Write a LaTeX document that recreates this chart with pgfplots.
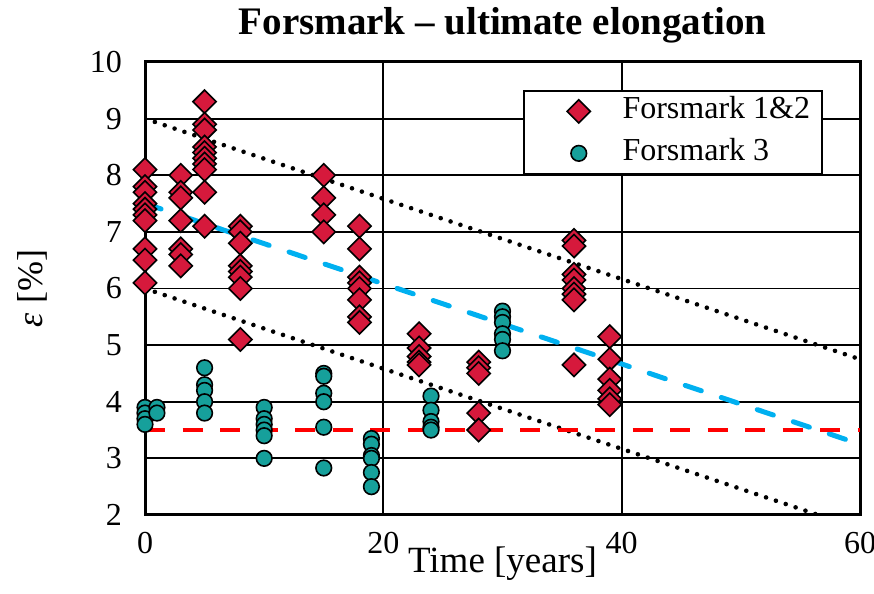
\documentclass[border=0pt]{standalone}
\usepackage{fontspec}
\setmainfont{Liberation Serif}
\usepackage{pgfplots}
\pgfplotsset{compat=1.18}

\definecolor{fmred}{RGB}{214,25,60}
\definecolor{fmteal}{RGB}{22,160,155}
\definecolor{trendblue}{RGB}{0,176,240}

% legend image: a single mark, offset to the right
\pgfplotsset{markonly legend/.style={legend image code/.code={%
  \path (0pt,0pt) (30pt,0pt);
  \draw[##1] plot coordinates {(21pt,0pt)};}}}

\begin{document}
\begin{tikzpicture}
\begin{axis}[
  name=ax,
  scale only axis,
  width=357.5pt, height=226.5pt,
  xmin=0, xmax=60, ymin=2, ymax=10,
  xtick={0,20,40,60}, ytick={2,3,...,10},
  grid=major, major grid style={black, line width=0.9pt},
  axis line style={line width=1.5pt},
  major tick length=0pt,
  tick label style={font=\fontsize{16}{16}\selectfont},
  /pgf/number format/assume math mode=true,
  yticklabel style={xshift=-8pt},
  xticklabel style={yshift=-5pt},
  every axis title shift=0pt,
  title={Forsmark – ultimate elongation},
  title style={font=\bfseries\fontsize{19.5}{19.5}\selectfont,
    at={(axis description cs:0.5,1.0596)}, anchor=base},
  xlabel={Time [years]},
  xlabel style={font=\fontsize{18.5}{18.5}\selectfont,
    at={(axis description cs:0.5,-0.128)}, anchor=base},
  ylabel={\textit{ε} [\%]},
  ylabel style={font=\fontsize{18}{18}\selectfont,
    at={(axis description cs:-0.144,0.5)}, anchor=base},
  clip mode=individual,
  legend cell align=left,
  legend style={at={(0.948,0.938)}, anchor=north east,
    draw=black, line width=0.75pt, fill=white,
    font=\fontsize{16}{16}\selectfont,
    inner xsep=6pt, inner ysep=3pt,
    nodes={inner sep=0pt, text height=11pt, text depth=3.5pt},
    column sep=12.5pt, row sep=6.5pt},
]

% trend lines: mean and +/- 1.5 band, and the 3.5 % criterion
\addplot[forget plot, black, line width=2.3pt, line cap=round,
  dash pattern=on 0pt off 5.2pt] coordinates {(0,9) (60,4.75)};
\addplot[forget plot, black, line width=2.3pt, line cap=round,
  dash pattern=on 0pt off 5.2pt] coordinates {(0,6) (56.5,2)};
\addplot[forget plot, trendblue, line width=2.5pt, line cap=round,
  dash pattern=on 8.5pt off 10.5pt] coordinates {(0,7.5) (60,3.25)};
\addplot[forget plot, red, line width=2pt,
  dash pattern=on 10pt off 8.75pt] coordinates {(0,3.5) (60,3.5)};

% Forsmark 1&2
\addplot[only marks, mark=square*, mark size=4.1pt,
  mark options={rotate=45, fill=fmred, draw=black, line width=0.8pt},
  markonly legend]
  coordinates {
  (0,8.1) (0,7.8) (0,7.7) (0,7.5) (0,7.4) (0,7.3) (0,7.2) (0,6.7) (0,6.5) (0,6.1)
  (3,8.0) (3,7.7) (3,7.6) (3,7.2) (3,6.7) (3,6.6) (3,6.4)
  (5,9.3) (5,8.9) (5,8.8) (5,8.5) (5,8.4) (5,8.3) (5,8.2) (5,8.1) (5,7.7) (5,7.1)
  (8,7.1) (8,7.0) (8,6.8) (8,6.4) (8,6.3) (8,6.2) (8,6.0) (8,5.1)
  (15,8.0) (15,7.6) (15,7.3) (15,7.0)
  (18,7.1) (18,6.7) (18,6.2) (18,6.1) (18,6.0) (18,5.8) (18,5.5) (18,5.4)
  (23,5.2) (23,4.95) (23,4.8) (23,4.7) (23,4.65)
  (28,4.7) (28,4.6) (28,4.5) (28,3.8) (28,3.5)
  (36,6.85) (36,6.75) (36,6.25) (36,6.15) (36,6.0) (36,5.9) (36,5.8) (36,4.65)
  (39,5.15) (39,4.75) (39,4.4) (39,4.2) (39,4.05) (39,3.95)
  };
\addlegendentry{Forsmark 1\&2}

% Forsmark 3
\addplot[only marks, mark=*, mark size=3.9pt,
  mark options={fill=fmteal, draw=black, line width=0.8pt},
  markonly legend]
  coordinates {
  (0,3.9) (0,3.8) (0,3.7) (0,3.6)
  (1,3.9) (1,3.8)
  (5,4.6) (5,4.3) (5,4.2) (5,4.0) (5,3.8)
  (10,3.9) (10,3.7) (10,3.6) (10,3.5) (10,3.4) (10,3.0)
  (15,4.5) (15,4.45) (15,4.15) (15,4.0) (15,3.55) (15,2.83)
  (19,3.35) (19,3.25) (19,3.05) (19,3.0) (19,2.75) (19,2.5)
  (24,4.1) (24,3.85) (24,3.65) (24,3.55) (24,3.5)
  (30,5.6) (30,5.5) (30,5.4) (30,5.2) (30,5.1) (30,4.9)
  };
\addlegendentry{Forsmark 3}
\end{axis}
\pgfresetboundingbox
\path[use as bounding box] ([shift={(-72.5pt,-39.5pt)}]ax.south west)
  rectangle ([shift={(7pt,31pt)}]ax.north east);
\end{tikzpicture}
\end{document}
